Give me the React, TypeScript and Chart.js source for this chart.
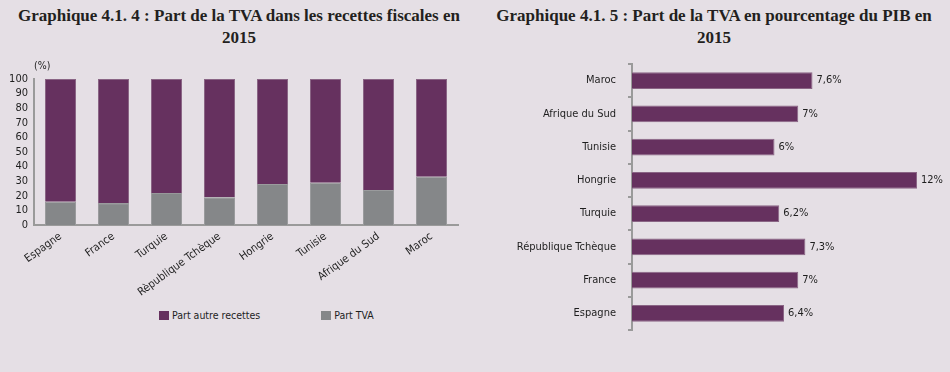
import React, { useEffect, useRef } from "react";
import { Chart, registerables } from "chart.js";

Chart.register(...registerables);

// ---- Data: chart 4.1.4 (stacked, %) ----
const leftCategories = ["Espagne", "France", "Turquie", "Rèpublique Tchèque", "Hongrie", "Tunisie", "Afrique du Sud", "Maroc"];
const partTVA = [16, 15, 22, 19, 28, 29, 24, 33];
const partAutre = [84, 85, 78, 81, 72, 71, 76, 67];

// ---- Data: chart 4.1.5 (TVA en % du PIB) ----
const rightCategories = ["Maroc", "Afrique du Sud", "Tunisie", "Hongrie", "Turquie", "République Tchèque", "France", "Espagne"];
const tvaPib = [7.6, 7, 6, 12, 6.2, 7.3, 7, 6.4];

const BG = "#e5dfe5";
const PURPLE = "#66315f";
const GRAY = "#858789";
const AXIS = "#9a9a9a";
const TXT = "#1e1e1e";
const SANS = "'DejaVu Sans Condensed', 'Liberation Sans', sans-serif";
const SERIF = "'Liberation Serif', 'DejaVu Serif', serif";

const pctLabelPlugin = {
  id: "pctLabels",
  afterDatasetsDraw(chart: any) {
    const ctx = chart.ctx;
    const meta = chart.getDatasetMeta(0);
    const data = chart.data.datasets[0].data as number[];
    ctx.save();
    ctx.font = `11px ${SANS}`;
    ctx.fillStyle = TXT;
    ctx.textAlign = "left";
    ctx.textBaseline = "middle";
    meta.data.forEach((bar: any, i: number) => {
      const txt = String(data[i]).replace(".", ",") + "%";
      ctx.fillText(txt, bar.x + 4, bar.y);
    });
    ctx.restore();
  },
};

const unitPlugin = {
  id: "unitLabel",
  afterDraw(chart: any) {
    const ctx = chart.ctx;
    ctx.save();
    ctx.font = `10.5px ${SANS}`;
    ctx.fillStyle = TXT;
    ctx.textAlign = "left";
    ctx.textBaseline = "middle";
    ctx.fillText("(%)", chart.chartArea.left, chart.chartArea.top - 13);
    ctx.restore();
  },
};

function LeftChart() {
  const ref = useRef<HTMLCanvasElement>(null);
  useEffect(() => {
    const chart = new Chart(ref.current!, {
      type: "bar",
      data: {
        labels: leftCategories,
        datasets: [
          { label: "Part TVA", data: partTVA, backgroundColor: GRAY, borderColor: "#9a9b9d", borderWidth: 1, barPercentage: 0.585, categoryPercentage: 1 },
          { label: "Part autre recettes", data: partAutre, backgroundColor: PURPLE, borderColor: "#8a6585", borderWidth: 1, barPercentage: 0.585, categoryPercentage: 1 },
        ],
      },
      options: {
        animation: false,
        responsive: false,
        maintainAspectRatio: false,
        layout: { padding: { left: 0, right: 17, top: 24, bottom: 0 } },
        plugins: { legend: { display: false }, tooltip: { enabled: false } },
        scales: {
          x: {
            stacked: true,
            grid: { display: false, drawTicks: false },
            border: { display: true, color: AXIS, width: 2 },
            ticks: { color: TXT, font: { family: SANS, size: 11 }, minRotation: 36, maxRotation: 36, padding: 5, autoSkip: false },
            afterFit: (s: any) => { s.height = 80; },
          },
          y: {
            stacked: true,
            min: 0,
            max: 100,
            grid: { display: false, drawTicks: false },
            border: { display: true, color: AXIS, width: 2 },
            ticks: { stepSize: 10, autoSkip: false, color: TXT, font: { family: SANS, size: 11 }, padding: 6 },
            afterFit: (s: any) => { s.width = 34; },
          },
        },
      },
      plugins: [unitPlugin],
    });
    return () => chart.destroy();
  }, []);
  return <canvas ref={ref} width={475} height={250} style={{ position: "absolute", left: 0, top: 55, width: 475, height: 250 }} />;
}

function RightChart() {
  const ref = useRef<HTMLCanvasElement>(null);
  useEffect(() => {
    const chart = new Chart(ref.current!, {
      type: "bar",
      data: {
        labels: rightCategories,
        datasets: [
          { label: "TVA/PIB", data: tvaPib, backgroundColor: PURPLE, borderColor: "#8a6585", borderWidth: 1, barPercentage: 0.5, categoryPercentage: 1 },
        ],
      },
      options: {
        indexAxis: "y",
        animation: false,
        responsive: false,
        maintainAspectRatio: false,
        layout: { padding: { left: 0, right: 33, top: 14, bottom: 10 } },
        plugins: { legend: { display: false }, tooltip: { enabled: false } },
        scales: {
          x: { display: false, min: 0, max: 12 },
          y: {
            grid: { display: true, drawOnChartArea: false, drawTicks: true, tickLength: 4, color: AXIS, lineWidth: 2, offset: true },
            border: { display: true, color: AXIS, width: 2 },
            ticks: { color: TXT, font: { family: SANS, size: 11 }, padding: 12, autoSkip: false },
            afterFit: (s: any) => { s.width = 152; s.paddingTop = 0; s.paddingBottom = 0; },
          },
        },
      },
      plugins: [pctLabelPlugin],
    });
    return () => chart.destroy();
  }, []);
  return <canvas ref={ref} width={470} height={290} style={{ position: "absolute", left: 480, top: 50, width: 470, height: 290 }} />;
}

const titleStyle: React.CSSProperties = {
  position: "absolute",
  top: 5,
  fontFamily: SERIF,
  fontWeight: "bold",
  fontSize: 17,
  lineHeight: "22px",
  textAlign: "center",
  color: "#231f20",
};

const legendItem: React.CSSProperties = { display: "inline-flex", alignItems: "center", fontFamily: SANS, fontSize: 10.5, color: TXT };
const sw = (c: string): React.CSSProperties => ({ display: "inline-block", width: 10, height: 9, background: c, marginRight: 3 });

export default function App() {
  useEffect(() => {
    document.body.style.margin = "0";
    document.body.style.background = BG;
  }, []);
  return (
    <div style={{ position: "absolute", left: 0, top: 0, width: 950, height: 372, background: BG, overflow: "hidden" }}>
      <div style={{ ...titleStyle, left: 0, width: 478 }}>
        Graphique 4.1. 4 : Part de la TVA dans les recettes fiscales en<br />2015
      </div>
      <div style={{ ...titleStyle, left: 480, width: 468 }}>
        Graphique 4.1. 5 : Part de la TVA en pourcentage du PIB en<br />2015
      </div>
      <LeftChart />
      <RightChart />
      <div style={{ position: "absolute", left: 159, top: 306, height: 18, display: "flex", alignItems: "center" }}>
        <span style={legendItem}><span style={sw(PURPLE)} />Part autre recettes</span>
        <span style={{ ...legendItem, marginLeft: 61 }}><span style={sw(GRAY)} />Part TVA</span>
      </div>
    </div>
  );
}
